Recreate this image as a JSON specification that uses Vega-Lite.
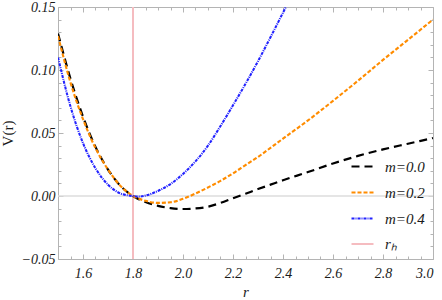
{
  "$schema": "https://vega.github.io/schema/vega-lite/v6.json",
  "width": 375,
  "height": 252,
  "autosize": "none",
  "padding": {"left": 58, "top": 7, "right": 9, "bottom": 41},
  "background": "white",
  "config": {
    "view": {"stroke": "#b4b4b4", "strokeWidth": 1},
    "font": "Liberation Serif",
    "axis": {
      "domain": false,
      "grid": false,
      "tickColor": "#b4b4b4",
      "labelFont": "Liberation Serif",
      "labelFontStyle": "italic",
      "labelFontSize": 14,
      "labelColor": "#1a1a1a",
      "titleFont": "Liberation Serif",
      "titleFontSize": 15,
      "titleFontWeight": "normal",
      "titleColor": "#1a1a1a"
    }
  },
  "datasets": {
    "curves": [
      {"r": 1.50, "V": 0.129, "series": "m=0.0"},
      {"r": 1.55, "V": 0.093, "series": "m=0.0"},
      {"r": 1.60, "V": 0.063, "series": "m=0.0"},
      {"r": 1.65, "V": 0.039, "series": "m=0.0"},
      {"r": 1.70, "V": 0.021, "series": "m=0.0"},
      {"r": 1.75, "V": 0.008, "series": "m=0.0"},
      {"r": 1.80, "V": 0.000, "series": "m=0.0"},
      {"r": 1.85, "V": -0.0048, "series": "m=0.0"},
      {"r": 1.90, "V": -0.0078, "series": "m=0.0"},
      {"r": 1.95, "V": -0.0096, "series": "m=0.0"},
      {"r": 2.00, "V": -0.0103, "series": "m=0.0"},
      {"r": 2.05, "V": -0.0099, "series": "m=0.0"},
      {"r": 2.10, "V": -0.0085, "series": "m=0.0"},
      {"r": 2.15, "V": -0.0055, "series": "m=0.0"},
      {"r": 2.20, "V": -0.0018, "series": "m=0.0"},
      {"r": 2.25, "V": 0.0018, "series": "m=0.0"},
      {"r": 2.30, "V": 0.0055, "series": "m=0.0"},
      {"r": 2.35, "V": 0.009, "series": "m=0.0"},
      {"r": 2.40, "V": 0.0125, "series": "m=0.0"},
      {"r": 2.50, "V": 0.019, "series": "m=0.0"},
      {"r": 2.60, "V": 0.0258, "series": "m=0.0"},
      {"r": 2.70, "V": 0.0318, "series": "m=0.0"},
      {"r": 2.80, "V": 0.037, "series": "m=0.0"},
      {"r": 2.90, "V": 0.0415, "series": "m=0.0"},
      {"r": 3.00, "V": 0.046, "series": "m=0.0"},

      {"r": 1.50, "V": 0.127, "series": "m=0.2"},
      {"r": 1.55, "V": 0.090, "series": "m=0.2"},
      {"r": 1.60, "V": 0.061, "series": "m=0.2"},
      {"r": 1.65, "V": 0.038, "series": "m=0.2"},
      {"r": 1.70, "V": 0.021, "series": "m=0.2"},
      {"r": 1.75, "V": 0.008, "series": "m=0.2"},
      {"r": 1.80, "V": 0.000, "series": "m=0.2"},
      {"r": 1.85, "V": -0.0038, "series": "m=0.2"},
      {"r": 1.90, "V": -0.0055, "series": "m=0.2"},
      {"r": 1.95, "V": -0.0050, "series": "m=0.2"},
      {"r": 2.00, "V": -0.0022, "series": "m=0.2"},
      {"r": 2.05, "V": 0.0020, "series": "m=0.2"},
      {"r": 2.10, "V": 0.0068, "series": "m=0.2"},
      {"r": 2.15, "V": 0.0120, "series": "m=0.2"},
      {"r": 2.20, "V": 0.0180, "series": "m=0.2"},
      {"r": 2.25, "V": 0.0245, "series": "m=0.2"},
      {"r": 2.30, "V": 0.0310, "series": "m=0.2"},
      {"r": 2.35, "V": 0.0382, "series": "m=0.2"},
      {"r": 2.40, "V": 0.0455, "series": "m=0.2"},
      {"r": 2.50, "V": 0.0600, "series": "m=0.2"},
      {"r": 2.60, "V": 0.0755, "series": "m=0.2"},
      {"r": 2.70, "V": 0.0915, "series": "m=0.2"},
      {"r": 2.80, "V": 0.1080, "series": "m=0.2"},
      {"r": 2.90, "V": 0.1240, "series": "m=0.2"},
      {"r": 3.00, "V": 0.1400, "series": "m=0.2"},

      {"r": 1.50, "V": 0.110, "series": "m=0.4"},
      {"r": 1.55, "V": 0.071, "series": "m=0.4"},
      {"r": 1.60, "V": 0.042, "series": "m=0.4"},
      {"r": 1.65, "V": 0.022, "series": "m=0.4"},
      {"r": 1.70, "V": 0.0090, "series": "m=0.4"},
      {"r": 1.75, "V": 0.0020, "series": "m=0.4"},
      {"r": 1.80, "V": 0.000, "series": "m=0.4"},
      {"r": 1.83, "V": -0.0004, "series": "m=0.4"},
      {"r": 1.85, "V": 0.0003, "series": "m=0.4"},
      {"r": 1.90, "V": 0.0040, "series": "m=0.4"},
      {"r": 1.95, "V": 0.0095, "series": "m=0.4"},
      {"r": 2.00, "V": 0.0175, "series": "m=0.4"},
      {"r": 2.05, "V": 0.0275, "series": "m=0.4"},
      {"r": 2.10, "V": 0.0400, "series": "m=0.4"},
      {"r": 2.15, "V": 0.0555, "series": "m=0.4"},
      {"r": 2.20, "V": 0.0720, "series": "m=0.4"},
      {"r": 2.25, "V": 0.0890, "series": "m=0.4"},
      {"r": 2.30, "V": 0.1070, "series": "m=0.4"},
      {"r": 2.35, "V": 0.1260, "series": "m=0.4"},
      {"r": 2.40, "V": 0.1455, "series": "m=0.4"},
      {"r": 2.45, "V": 0.1650, "series": "m=0.4"}
    ],
    "horizon": [
      {"r": 1.8, "series": "rₕ"}
    ]
  },
  "layer": [
    {
      "data": {"values": [{"V": 0}]},
      "mark": {"type": "rule", "color": "#dcdcdc", "strokeWidth": 1.5},
      "encoding": {
        "y": {"field": "V", "type": "quantitative", "scale": {"domain": [-0.05, 0.15], "nice": false, "zero": false},
          "axis": {"orient": "right", "title": null, "labels": false,
            "values": [-0.05,-0.04,-0.03,-0.02,-0.01,0,0.01,0.02,0.03,0.04,0.05,0.06,0.07,0.08,0.09,0.1,0.11,0.12,0.13,0.14,0.15],
            "tickSize": {"condition": {"test": "abs(datum.value*20 - round(datum.value*20)) < 0.001", "value": -5}, "value": -3}}}
      }
    },
    {
      "data": {"name": "horizon"},
      "mark": {"type": "rule"},
      "encoding": {
        "x": {"field": "r", "type": "quantitative", "scale": {"domain": [1.5, 3.0], "nice": false, "zero": false},
          "axis": {"orient": "top", "title": null, "labels": false,
            "values": [1.5,1.55,1.6,1.65,1.7,1.75,1.8,1.85,1.9,1.95,2.0,2.05,2.1,2.15,2.2,2.25,2.3,2.35,2.4,2.45,2.5,2.55,2.6,2.65,2.7,2.75,2.8,2.85,2.9,2.95,3.0],
            "tickSize": {"condition": {"test": "abs(datum.value*5 - round(datum.value*5)) < 0.001", "value": -5}, "value": -3}}},
        "color": {"field": "series", "type": "nominal"},
        "strokeDash": {"field": "series", "type": "nominal"},
        "strokeWidth": {"field": "series", "type": "nominal"}
      }
    },
    {
      "data": {"name": "curves"},
      "mark": {"type": "line", "clip": true, "interpolate": "monotone"},
      "encoding": {
        "x": {"field": "r", "type": "quantitative",
          "axis": {"orient": "bottom", "title": "r", "titleFont": "Liberation Serif", "titleFontStyle": "italic", "titlePadding": 4,
            "values": [1.5,1.55,1.6,1.65,1.7,1.75,1.8,1.85,1.9,1.95,2.0,2.05,2.1,2.15,2.2,2.25,2.3,2.35,2.4,2.45,2.5,2.55,2.6,2.65,2.7,2.75,2.8,2.85,2.9,2.95,3.0],
            "labelExpr": "abs(datum.value*5 - round(datum.value*5)) < 0.001 && datum.value > 1.55 ? format(datum.value, '.1f') : ''",
            "labelFont": "Liberation Serif", "labelFontStyle": "italic", "labelFontSize": 14,
            "labelPadding": 12,
            "tickSize": {"condition": {"test": "abs(datum.value*5 - round(datum.value*5)) < 0.001", "value": -5}, "value": -3}}},
        "y": {"field": "V", "type": "quantitative",
          "axis": {"orient": "left", "title": "V(r)", "titleFont": "Liberation Serif", "titleFontStyle": "normal", "titlePadding": 6,
            "values": [-0.05,-0.04,-0.03,-0.02,-0.01,0,0.01,0.02,0.03,0.04,0.05,0.06,0.07,0.08,0.09,0.1,0.11,0.12,0.13,0.14,0.15],
            "labelExpr": "abs(datum.value*20 - round(datum.value*20)) < 0.001 ? format(datum.value, '.2f') : ''",
            "labelFont": "Liberation Serif", "labelFontStyle": "italic", "labelFontSize": 14,
            "labelPadding": 8,
            "tickSize": {"condition": {"test": "abs(datum.value*20 - round(datum.value*20)) < 0.001", "value": -5}, "value": -3}}},
        "color": {"field": "series", "type": "nominal",
          "scale": {"domain": ["m=0.0", "m=0.2", "m=0.4", "rₕ"], "range": ["#000000", "#ff8c00", "#2222ff", "#f5bcc0"]},
          "legend": {"orient": "none", "legendX": 292, "legendY": 147, "title": null, "padding": 0,
            "symbolType": "stroke", "symbolSize": 484, "labelOffset": 10, "rowPadding": 5,
            "labelFont": "Liberation Serif", "labelFontStyle": "italic", "labelFontSize": 15, "labelColor": "#1a1a1a"}},
        "strokeDash": {"field": "series", "type": "nominal",
          "scale": {"domain": ["m=0.0", "m=0.2", "m=0.4", "rₕ"], "range": [[8, 5], [4, 2], [3, 1, 1, 1], [1, 0]]}},
        "strokeWidth": {"field": "series", "type": "nominal",
          "scale": {"domain": ["m=0.0", "m=0.2", "m=0.4", "rₕ"], "range": [2.2, 2, 1.4, 1]}}
      }
    }
  ],
  "resolve": {"axis": {"x": "independent", "y": "independent"}}
}
